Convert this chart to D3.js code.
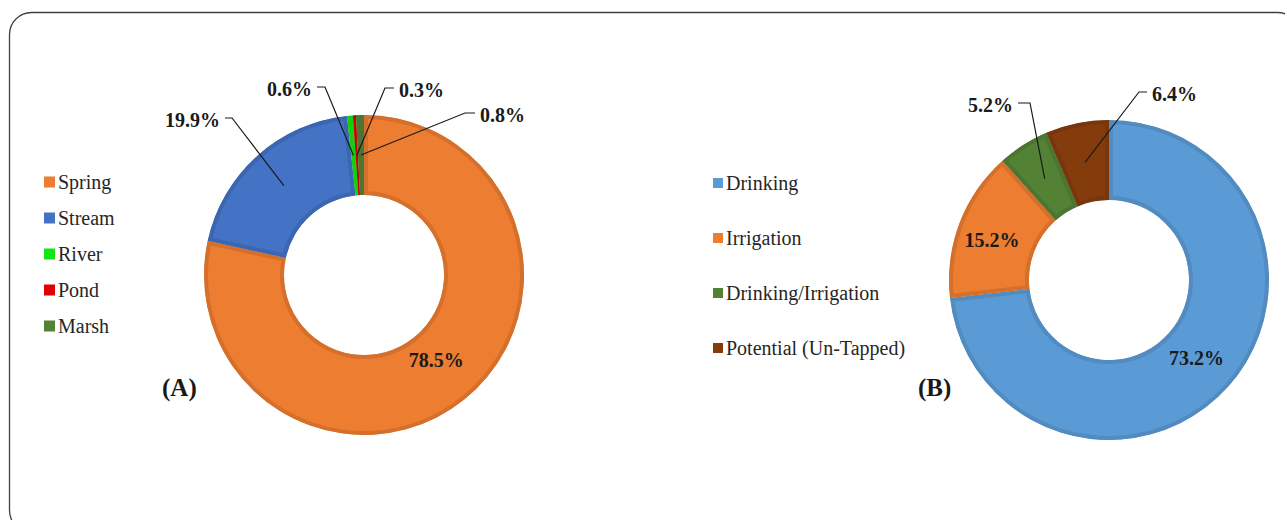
<!DOCTYPE html>
<head>
  <meta charset="utf-8">
  <script src="https://d3js.org/d3.v7.min.js"></script>
  <style>
    body { margin: 0; background: #fff; }
    .legend-text { font: 20px "Liberation Serif", "Times New Roman", serif; fill: #262626; }
    .pct { font: bold 20px "Liberation Serif", "Times New Roman", serif; fill: #1a1a1a; }
    .panel { font: bold 25px "Liberation Serif", "Times New Roman", serif; fill: #1a1a1a; }
    .leader { fill: none; stroke: #1a1a1a; stroke-width: 1.2px; }
  </style>
</head>
<body>
<script>
// chart A: water source types
var sourceNames = ["Spring", "Stream", "River", "Pond", "Marsh"];
var sourceValues = [78.5, 19.9, 0.6, 0.3, 0.8];
var sourceColors = ["#ec7d31", "#4472c4", "#14e614", "#e00000", "#548235"];

// chart B: water use
var useNames = ["Drinking", "Irrigation", "Drinking/Irrigation", "Potential (Un-Tapped)"];
var useValues = [73.2, 15.2, 5.2, 6.4];
var useColors = ["#5b9bd5", "#ec7d31", "#548235", "#843c0c"];

var width = 1285, height = 520;
var outerR = 160, innerR = 80;

var svg = d3.select("body").append("svg")
  .attr("width", width)
  .attr("height", height);

// frame
svg.append("rect")
  .attr("x", 9.5).attr("y", 12.5)
  .attr("width", 1290).attr("height", 520)
  .attr("rx", 22).attr("ry", 22)
  .style("fill", "none")
  .style("stroke", "#404040")
  .style("stroke-width", 1.3);

var pie = d3.pie().sort(null).value(function(d) { return d.value; });
var arc = d3.arc().innerRadius(innerR).outerRadius(outerR);

// label placement: inside = at centroid, else elbow offset from centre + side
function drawDonut(id, cx, cy, names, values, colors, labels) {
  var data = names.map(function(n, i) { return {name: n, value: values[i], color: colors[i]}; });
  var g = svg.append("g").attr("transform", "translate(" + cx + "," + cy + ")");
  var arcs = pie(data);

  var defs = svg.append("defs");
  arcs.forEach(function(a, i) {
    defs.append("clipPath").attr("id", id + "-clip-" + i)
      .append("path").attr("d", arc(a));
  });

  g.selectAll("path.slice")
    .data(arcs)
    .enter().append("path")
    .attr("class", "slice")
    .attr("d", arc)
    .attr("clip-path", function(d, i) { return "url(#" + id + "-clip-" + i + ")"; })
    .style("fill", function(d) { return d.data.color; })
    .style("stroke", function(d) { return d3.color(d.data.color).darker(0.3); })
    .style("stroke-width", 8);

  arcs.forEach(function(a, i) {
    var lab = labels[i];
    var txt = a.data.value.toFixed(1) + "%";
    var c = arc.centroid(a);
    if (lab.inside) {
      g.append("text").attr("class", "pct")
        .attr("x", c[0] + (lab.dx || 0)).attr("y", c[1] + (lab.dy || 0))
        .attr("dy", "0.35em")
        .attr("text-anchor", "middle")
        .text(txt);
    } else {
      var ex = lab.ex, ey = lab.ey, s = lab.side, len = lab.len || 8;
      g.append("path").attr("class", "leader")
        .attr("d", "M" + c[0] + "," + c[1] + "L" + ex + "," + ey + "L" + (ex + s * len) + "," + ey);
      g.append("text").attr("class", "pct")
        .attr("x", ex + s * (len + 5)).attr("y", ey + 2)
        .attr("dy", "0.35em")
        .attr("text-anchor", s < 0 ? "end" : "start")
        .text(txt);
    }
  });
}

function drawLegend(x, y, step, size, names, colors) {
  var lg = svg.append("g").attr("transform", "translate(" + x + "," + y + ")");
  var items = lg.selectAll("g").data(names).enter().append("g")
    .attr("transform", function(d, i) { return "translate(0," + (i * step) + ")"; });
  items.append("rect")
    .attr("x", 0).attr("y", -size / 2)
    .attr("width", size).attr("height", size)
    .style("fill", function(d, i) { return colors[i]; });
  items.append("text").attr("class", "legend-text")
    .attr("x", size + 3).attr("dy", "0.35em")
    .text(function(d) { return d; });
}

drawDonut("a", 364, 275, sourceNames, sourceValues, sourceColors, [
  {inside: true, dx: -3, dy: -8},
  {ex: -132, ey: -157, side: -1, len: 7},
  {ex: -39, ey: -188, side: -1, len: 8},
  {ex: 21, ey: -187, side: 1, len: 9},
  {ex: 101, ey: -162, side: 1, len: 10}
]);

drawDonut("b", 1109, 280, useNames, useValues, useColors, [
  {inside: true, dx: -2, dy: -2},
  {inside: true, dx: -5, dy: 3},
  {ex: -79, ey: -177, side: -1, len: 12},
  {ex: 30, ey: -188, side: 1, len: 8}
]);

drawLegend(44, 182, 36, 11, sourceNames, sourceColors);
drawLegend(713, 183, 55, 10, useNames, useColors);

svg.append("text").attr("class", "panel").attr("x", 162).attr("y", 387).attr("dy", "0.35em").text("(A)");
svg.append("text").attr("class", "panel").attr("x", 918).attr("y", 387).attr("dy", "0.35em").text("(B)");
</script>
</body>
